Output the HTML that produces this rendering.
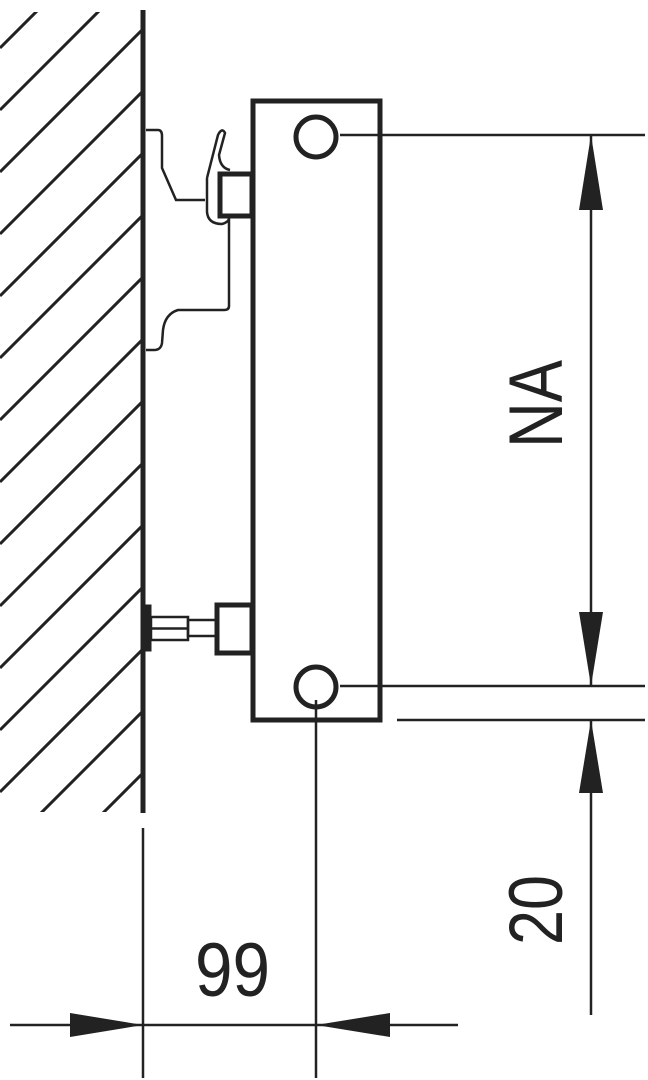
<!DOCTYPE html>
<html><head><style>html,body{margin:0;padding:0;background:#fff}svg{display:block}</style></head>
<body>
<svg width="648" height="1080" viewBox="0 0 648 1080" xmlns="http://www.w3.org/2000/svg">
<defs><clipPath id="c"><rect x="0" y="12" width="141" height="800"/></clipPath></defs>
<g clip-path="url(#c)" stroke="#222" stroke-width="3">
<line x1="0" y1="48" x2="900" y2="-852"/><line x1="0" y1="110" x2="900" y2="-790"/>
<line x1="0" y1="172" x2="900" y2="-728"/><line x1="0" y1="234" x2="900" y2="-666"/>
<line x1="0" y1="296" x2="900" y2="-604"/><line x1="0" y1="358" x2="900" y2="-542"/>
<line x1="0" y1="420" x2="900" y2="-480"/><line x1="0" y1="482" x2="900" y2="-418"/>
<line x1="0" y1="544" x2="900" y2="-356"/><line x1="0" y1="606" x2="900" y2="-294"/>
<line x1="0" y1="668" x2="900" y2="-232"/><line x1="0" y1="730" x2="900" y2="-170"/>
<line x1="0" y1="792" x2="900" y2="-108"/><line x1="0" y1="854" x2="900" y2="-46"/>
<line x1="0" y1="916" x2="900" y2="16"/>
</g>
<g fill="none" stroke="#222">
<line x1="143" y1="10" x2="143" y2="813" stroke-width="5"/>
<rect x="253" y="101" width="127" height="619" stroke-width="5"/>
<circle cx="316" cy="137" r="20" stroke-width="5"/>
<circle cx="316" cy="687" r="20" stroke-width="5"/>
<path d="M146 130 H158 Q162 130 162 136 V168 L176 200 H205" stroke-width="2.5"/>
<path d="M207 178 L218 135 Q222 127 225 133 L219 155 Q220 168 230 170 M207 178 V212 Q208 224 222 224 Q229 222 229 218 V306 Q229 310 224 310 H178 Q165 314 163 330 L162 343 Q161 350 154 350 H146" stroke-width="2.5"/>
<rect x="220" y="174" width="32" height="42" stroke-width="5"/>
<rect x="146" y="606" width="4" height="44" stroke-width="3" fill="#222"/>
<rect x="151" y="617" width="37" height="23" stroke-width="2.5"/>
<line x1="151" y1="628.5" x2="188" y2="628.5" stroke-width="2.5"/>
<rect x="188" y="620" width="28" height="16" stroke-width="2.5"/>
<rect x="217" y="605" width="35" height="48" stroke-width="5"/>
<g stroke-width="2.5">
<line x1="340" y1="135" x2="645" y2="135"/>
<line x1="340" y1="686" x2="645" y2="686"/>
<line x1="397" y1="720" x2="645" y2="720"/>
<line x1="591" y1="135" x2="591" y2="686"/>
<line x1="591" y1="720" x2="591" y2="1015"/>
<line x1="10" y1="1025" x2="458" y2="1025"/>
<line x1="143" y1="828" x2="143" y2="1078"/>
<line x1="316" y1="700" x2="316" y2="1078"/>
</g>
</g>
<g fill="#222">
<polygon points="591,135 579,210 603,210"/>
<polygon points="591,686 579,612 603,612"/>
<polygon points="591,720 579,793 603,793"/>
<polygon points="143,1025 70,1013 70,1037"/>
<polygon points="316,1025 390,1013 390,1037"/>
</g>
<g font-family="'Liberation Sans', sans-serif" fill="#222" font-size="76">
<text transform="translate(562,448) rotate(-90)" textLength="88" lengthAdjust="spacingAndGlyphs">NA</text>
<text transform="translate(562,945) rotate(-90)" textLength="70" lengthAdjust="spacingAndGlyphs">20</text>
<text x="195" y="996" textLength="75" lengthAdjust="spacingAndGlyphs">99</text>
</g>
</svg>
</body></html>
